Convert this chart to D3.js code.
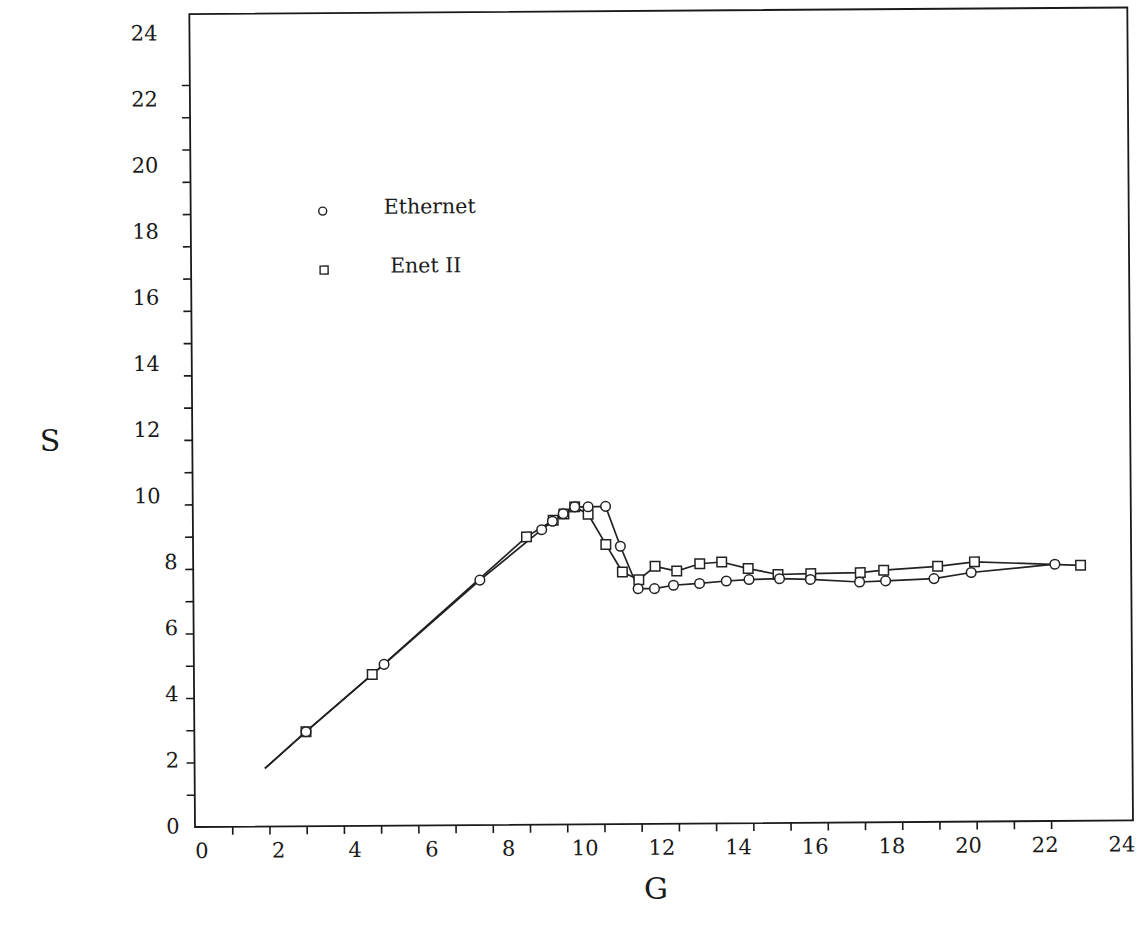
<!DOCTYPE html>
<html>
<head>
<meta charset="utf-8">
<script src="https://cdn.jsdelivr.net/npm/d3@7"></script>
<style>
  html, body { margin: 0; padding: 0; background: #ffffff; }
  svg { display: block; }
  text { font-family: "DejaVu Serif", "Liberation Serif", serif; fill: #1a1a1a; }
</style>
</head>
<body>
<svg id="chart" width="1141" height="935"></svg>
<script>
// ---- data (G = offered load, S = throughput) ----
const ethernetG = [1.89, 3.00, 5.11, 7.70, 9.37, 9.66, 9.95, 10.26, 10.62, 11.09, 11.48, 11.95, 12.39, 12.90, 13.60, 14.32, 14.93, 15.75, 16.58, 17.90, 18.60, 19.90, 20.90, 23.15];
const ethernetS = [1.80, 2.93, 5.00, 7.59, 9.14, 9.40, 9.63, 9.84, 9.84, 9.85, 8.61, 7.29, 7.29, 7.39, 7.44, 7.51, 7.55, 7.57, 7.54, 7.45, 7.48, 7.54, 7.72, 7.96];
const enetG = [1.89, 3.00, 4.79, 8.96, 9.68, 9.97, 10.26, 10.62, 11.09, 11.53, 11.97, 12.41, 12.99, 13.61, 14.20, 14.91, 15.71, 16.59, 17.92, 18.55, 20.00, 20.99, 23.84];
const enetS = [1.80, 2.93, 4.69, 8.92, 9.43, 9.62, 9.84, 9.61, 8.67, 7.81, 7.57, 7.98, 7.83, 8.05, 8.10, 7.89, 7.70, 7.72, 7.74, 7.81, 7.92, 8.05, 7.92];
const minorTicks = d3.range(1, 24);          // 1 .. 23
const tickLabels = d3.range(0, 25, 2);       // 0, 2, ..., 24
const seriesNames = ["Ethernet", "Enet II"];
const axisTitleX = "G";
const axisTitleY = "S";

// ---- layout ----
const svg = d3.select("#chart");
svg.append("rect").attr("width", 1141).attr("height", 935).attr("fill", "#fff");

const x = d3.scaleLinear().domain([0, 25.2]).range([195, 1133]);
const y = d3.scaleLinear().domain([0, 25.2]).range([827, 14]);
// label positions drift slightly from the tick positions in the original
const xLab = d3.scaleLinear().domain([0, 24]).range([201.7, 1121.7]);
const yLab = d3.scaleLinear().domain([0, 24]).range([825.8, 32.5]);

const g = svg.append("g").attr("transform", "rotate(-0.4, 195, 827)");

// frame
g.append("rect")
  .attr("x", x(0)).attr("y", y(25.2))
  .attr("width", x(25.2) - x(0)).attr("height", y(0) - y(25.2))
  .attr("fill", "none").attr("stroke", "#1a1a1a").attr("stroke-width", 1.8);

// ticks
const xAxis = g.append("g").attr("transform", `translate(0,${y(0)})`)
  .call(d3.axisBottom(x).tickValues(minorTicks).tickSize(8).tickFormat(""));
const yAxis = g.append("g").attr("transform", `translate(${x(0)},0)`)
  .call(d3.axisLeft(y).tickValues(minorTicks).tickSize(8).tickFormat(""));
[xAxis, yAxis].forEach(a => {
  a.select(".domain").remove();
  a.selectAll("line").attr("stroke", "#1a1a1a").attr("stroke-width", 1.6);
});

// tick labels
g.append("g").selectAll("text").data(tickLabels).join("text")
  .attr("x", d => xLab(d)).attr("y", 858)
  .attr("text-anchor", "middle").attr("font-size", 21)
  .text(d => d);
g.append("g").selectAll("text").data(tickLabels).join("text")
  .attr("x", d => d >= 10 ? 163 : 179.5).attr("y", d => yLab(d))
  .attr("dy", "0.36em").attr("text-anchor", "end").attr("font-size", 21)
  .text(d => d);

// lines
const line = d3.line().x(d => x(d[0])).y(d => y(d[1]));
const eth = ethernetG.map((v, i) => [v, ethernetS[i]]);
const en2 = enetG.map((v, i) => [v, enetS[i]]);
[eth, en2].forEach(pts => {
  g.append("path").datum(pts).attr("d", line)
    .attr("fill", "none").attr("stroke", "#222").attr("stroke-width", 1.7);
});

// markers (first point is the line start, unmarked)
g.append("g").selectAll("rect").data(en2.slice(1)).join("rect")
  .attr("x", d => x(d[0]) - 4.75).attr("y", d => y(d[1]) - 4.75)
  .attr("width", 9.5).attr("height", 9.5)
  .attr("fill", "#fff").attr("stroke", "#222").attr("stroke-width", 1.5);
g.append("g").selectAll("circle").data(eth.slice(1)).join("circle")
  .attr("cx", d => x(d[0])).attr("cy", d => y(d[1])).attr("r", 4.8)
  .attr("fill", "#fff").attr("stroke", "#222").attr("stroke-width", 1.5);

// legend
const leg = g.append("g");
leg.append("circle").attr("cx", 327).attr("cy", 212).attr("r", 4)
  .attr("fill", "#fff").attr("stroke", "#222").attr("stroke-width", 1.4);
leg.append("text").attr("x", 388).attr("y", 215).attr("font-size", 20.5).text(seriesNames[0]);
leg.append("rect").attr("x", 324).attr("y", 267).attr("width", 8).attr("height", 8)
  .attr("fill", "#fff").attr("stroke", "#222").attr("stroke-width", 1.4);
leg.append("text").attr("x", 394).attr("y", 274).attr("font-size", 20.5).text(seriesNames[1]);

// axis titles
svg.append("text").attr("x", 50).attr("y", 440).attr("dy", "0.36em")
  .attr("text-anchor", "middle").attr("font-size", 30).text(axisTitleY);
svg.append("text").attr("x", 656).attr("y", 888).attr("dy", "0.36em")
  .attr("text-anchor", "middle").attr("font-size", 30).text(axisTitleX);
</script>
</body>
</html>
